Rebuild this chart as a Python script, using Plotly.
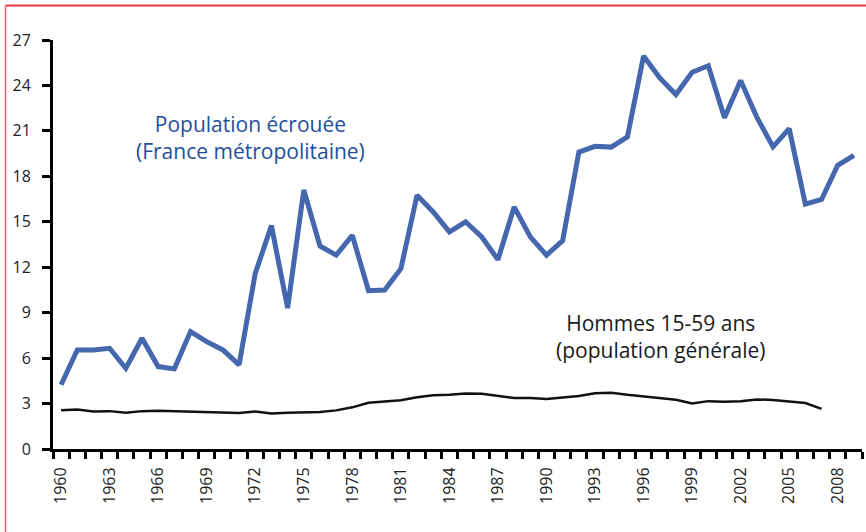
import plotly.graph_objects as go

years_pop = list(range(1960, 2010))
pop_ecrouee = [4.24, 6.54, 6.54, 6.65, 5.33, 7.31, 5.44, 5.29, 7.75, 7.09,
               6.54, 5.55, 11.59, 14.75, 9.3, 17.1, 13.4, 12.8, 14.1, 10.45,
               10.5, 11.9, 16.75, 15.65, 14.33, 15.0, 14.0, 12.5, 15.98, 14.0,
               12.8, 13.75, 19.6, 19.98, 19.93, 20.6, 25.95, 24.5, 23.4, 24.87,
               25.3, 21.87, 24.33, 21.9, 19.95, 21.15, 16.16, 16.47, 18.73, 19.39]

years_hom = list(range(1960, 2008))
hommes = [2.55, 2.6, 2.48, 2.5, 2.4, 2.5, 2.52, 2.5, 2.45, 2.45,
          2.42, 2.38, 2.48, 2.35, 2.4, 2.42, 2.45, 2.55, 2.75, 3.05,
          3.12, 3.22, 3.42, 3.55, 3.58, 3.67, 3.64, 3.5, 3.36, 3.36,
          3.3, 3.4, 3.5, 3.68, 3.72, 3.58, 3.47, 3.4, 3.25, 3.0,
          3.16, 3.12, 3.15, 3.27, 3.24, 3.14, 3.03, 2.65]

tick_years = list(range(1960, 2009, 3))
y_ticks = list(range(0, 28, 3))

label_pop = "Population écrouée<br>(France métropolitaine)"
label_hom = "Hommes 15-59 ans<br>(population générale)"

FONT = "Open Sans"

fig = go.Figure()
fig.add_trace(go.Scatter(x=years_hom, y=hommes, mode="lines",
                         line=dict(color="#111111", width=2.5),
                         showlegend=False, hoverinfo="skip"))
fig.add_trace(go.Scatter(x=years_pop, y=pop_ecrouee, mode="lines",
                         line=dict(color="#4567ae", width=5),
                         showlegend=False, hoverinfo="skip"))

fig.add_annotation(x=1971.7, y=20.55, text=label_pop, showarrow=False,
                   font=dict(family=FONT, size=21, color="#1f4f9c"),
                   xanchor="center", yanchor="middle", align="center")
fig.add_annotation(x=1997.1, y=7.45, text=label_hom, showarrow=False,
                   font=dict(family=FONT, size=21, color="#1a1a1a"),
                   xanchor="center", yanchor="middle", align="center")

# red frame (top and left edges)
L, R, T, B = 53, 4, 40, 83
W, H = 866, 532
pw, ph = W - L - R, H - T - B
def px2x(p):
    return (p - L) / pw
def py2y(p):
    return (H - B - p) / ph
fig.add_shape(type="line", xref="paper", yref="paper",
              x0=px2x(5.5), x1=px2x(866), y0=py2y(5.5), y1=py2y(5.5),
              line=dict(color="#e23b45", width=2))
fig.add_shape(type="line", xref="paper", yref="paper",
              x0=px2x(5.5), x1=px2x(5.5), y0=py2y(5.5), y1=py2y(532),
              line=dict(color="#e8606a", width=1.5))

fig.update_layout(
    width=W, height=H,
    margin=dict(l=L, r=R, t=T, b=B, pad=0),
    paper_bgcolor="white", plot_bgcolor="white",
    font=dict(family=FONT, size=16, color="#222222"),
    xaxis=dict(range=[1959.5, 2009.5], tickmode="array", tickvals=tick_years,
               ticktext=[str(y) for y in tick_years], tickangle=-90,
               ticks="", showgrid=False, zeroline=False,
               showline=True, linecolor="black", linewidth=3,
               tickfont=dict(family=FONT, size=16, color="#222222"),
               ticklabelstandoff=9,
               minor=dict(tickmode="linear", tick0=1959.5, dtick=1, ticks="outside",
                          ticklen=7, tickwidth=3, tickcolor="black", showgrid=False)),
    yaxis=dict(range=[0, 27], tickmode="array", tickvals=y_ticks,
               ticks="outside", ticklen=8, tickwidth=3, tickcolor="black",
               showgrid=False, zeroline=False, showline=True,
               linecolor="black", linewidth=3,
               tickfont=dict(family=FONT, size=16, color="#222222"),
               ticklabelstandoff=8),
)

fig.write_html("out.html", config={"displayModeBar": False},
               post_script="document.body.style.margin='0';document.body.style.padding='0';")
